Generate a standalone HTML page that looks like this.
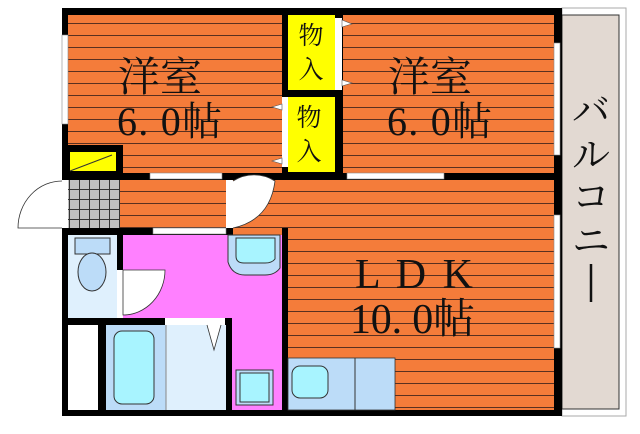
<!DOCTYPE html>
<html><head><meta charset="utf-8"><style>body{margin:0;background:#fff}svg{display:block}text{font-family:"Liberation Serif","Noto Serif CJK SC",serif;fill:#111}</style></head><body>
<svg width="640" height="434" viewBox="0 0 640 434" xmlns="http://www.w3.org/2000/svg">
<defs>
<pattern id="fl" width="12" height="12" patternUnits="userSpaceOnUse"><rect width="12" height="12" fill="#f47c3a"/><line x1="0" y1="11.5" x2="12" y2="11.5" stroke="#5a3020" stroke-width="1"/></pattern>
<pattern id="tile" width="10" height="10" patternUnits="userSpaceOnUse"><rect width="10" height="10" fill="#c0c0c0"/><path d="M0 9.5H10M9.5 0V10" stroke="#333" stroke-width="1"/></pattern>
</defs>
<rect x="562" y="8" width="64" height="408" fill="#fff" stroke="#aaa"/>
<rect x="562" y="15" width="57" height="394" fill="#e2d9d2" stroke="#333"/>
<rect x="62" y="8" width="500" height="408" fill="#000"/>
<rect x="68" y="15" width="214" height="158" fill="url(#fl)"/>
<rect x="343" y="15" width="211" height="158" fill="url(#fl)"/>
<rect x="288" y="15" width="47" height="75" fill="#ffff00"/>
<rect x="288" y="97" width="47" height="75" fill="#ffff00"/>
<rect x="68" y="145" width="55" height="28" fill="#000"/>
<rect x="70" y="152" width="46" height="19" fill="#ffff00"/>
<line x1="70" y1="171" x2="112" y2="155" stroke="#333"/>
<rect x="68" y="180" width="52" height="48" fill="url(#tile)"/>
<rect x="120" y="180" width="106" height="48" fill="url(#fl)"/>
<rect x="233" y="180" width="321" height="230" fill="url(#fl)"/>
<rect x="282" y="228" width="6" height="182" fill="#000"/>
<rect x="68" y="235" width="49" height="83" fill="#dff0fd"/>
<rect x="75" y="238" width="35" height="16" fill="#bcdcf8" stroke="#333"/>
<ellipse cx="92" cy="272" rx="14" ry="19" fill="#bcdcf8" stroke="#333"/>
<rect x="123" y="235" width="159" height="83" fill="#ff80ff"/>
<rect x="232" y="318" width="50" height="92" fill="#ff80ff"/>
<rect x="117" y="270" width="6" height="48" fill="#fff"/>
<path d="M123 270H165A42 45 0 0 1 123 315Z" fill="#fff" stroke="#333" stroke-width="0.8"/>
<path d="M228 235H280V268Q275 275 265 275H245Q232 275 228 262Z" fill="#bcdcf8" stroke="#333"/>
<path d="M236 238H275V259Q272 263 265 263H244Q236 263 236 256Z" fill="#a8f4ff" stroke="#333"/>
<rect x="236" y="370" width="37" height="35" fill="#bcdcf8" stroke="#333"/>
<rect x="240" y="373" width="29" height="29" fill="#a8f4ff" stroke="#333"/>
<rect x="68" y="325" width="30" height="85" fill="#fff"/>
<rect x="106" y="325" width="60" height="85" fill="#bcdcf8"/>
<rect x="114" y="331" width="40" height="73" rx="8" fill="#a8f4ff" stroke="#333"/>
<rect x="166" y="325" width="60" height="85" fill="#dff0fd"/>
<line x1="166" y1="325" x2="166" y2="410" stroke="#888"/>
<rect x="165" y="318" width="60" height="7" fill="#fff"/>
<path d="M207 325L214 350L221 325" fill="#fff" stroke="#333" stroke-width="0.8"/>
<rect x="288" y="358" width="107" height="52" fill="#bcdcf8" stroke="#333" stroke-width="0.8"/>
<line x1="355" y1="358" x2="355" y2="410" stroke="#333"/>
<rect x="292" y="366" width="36" height="32" rx="8" fill="#a8f4ff" stroke="#333"/>
<rect x="62" y="35" width="6" height="89" fill="#fff" stroke="#888" stroke-width="0.6"/>
<rect x="554" y="43" width="6" height="112" fill="#fff" stroke="#888" stroke-width="0.6"/>
<rect x="554" y="215" width="6" height="133" fill="#fff" stroke="#888" stroke-width="0.6"/>
<rect x="150" y="173" width="72" height="6" fill="#fff" stroke="#888" stroke-width="0.6"/>
<rect x="347" y="173" width="97" height="6" fill="#fff" stroke="#888" stroke-width="0.6"/>
<rect x="153" y="228" width="73" height="6" fill="#fff" stroke="#888" stroke-width="0.6"/>
<rect x="282" y="97" width="6" height="70" fill="#fff"/>
<path d="M282 104L272 107L282 110ZM282 158L272 161L282 164Z" fill="#fff" stroke="#555" stroke-width="0.6"/>
<rect x="335" y="18" width="7" height="72" fill="#fff"/>
<path d="M342 20L352 24L342 27ZM342 80L352 83L342 86Z" fill="#fff" stroke="#555" stroke-width="0.6"/>
<rect x="62" y="180" width="6" height="48" fill="#fff"/>
<path d="M62 181A44 47 0 0 0 18 228H62" fill="#fff" stroke="#333" stroke-width="0.8"/>
<rect x="226" y="180" width="7" height="48" fill="#fff"/>
<path d="M233 181A42 46 0 0 1 275 181Q270 220 233 228" fill="#fff" stroke="#333" stroke-width="0.8"/>
<text x="118" y="91" font-size="41" textLength="84" lengthAdjust="spacingAndGlyphs">洋室</text>
<text x="117" y="135" font-size="40" textLength="105" lengthAdjust="spacing">6. 0帖</text>
<text x="388" y="91" font-size="41" textLength="84" lengthAdjust="spacingAndGlyphs">洋室</text>
<text x="387" y="135" font-size="40" textLength="105" lengthAdjust="spacing">6. 0帖</text>
<text x="311" y="44" font-size="25" text-anchor="middle">物</text>
<text x="311" y="78" font-size="25" text-anchor="middle">入</text>
<text x="309" y="126" font-size="25" text-anchor="middle">物</text>
<text x="309" y="160" font-size="25" text-anchor="middle">入</text>
<text x="355" y="288" font-size="42" textLength="118" lengthAdjust="spacing">L D K</text>
<text x="350" y="333" font-size="42" textLength="125" lengthAdjust="spacing">10. 0帖</text>
<text x="591" y="124" font-size="38" text-anchor="middle">バ</text>
<text x="591" y="168" font-size="38" text-anchor="middle">ル</text>
<text x="591" y="210" font-size="38" text-anchor="middle">コ</text>
<text x="591" y="254" font-size="38" text-anchor="middle">ニ</text>
<line x1="591" y1="264" x2="591" y2="302" stroke="#111" stroke-width="2.5"/>
</svg>
</body></html>
